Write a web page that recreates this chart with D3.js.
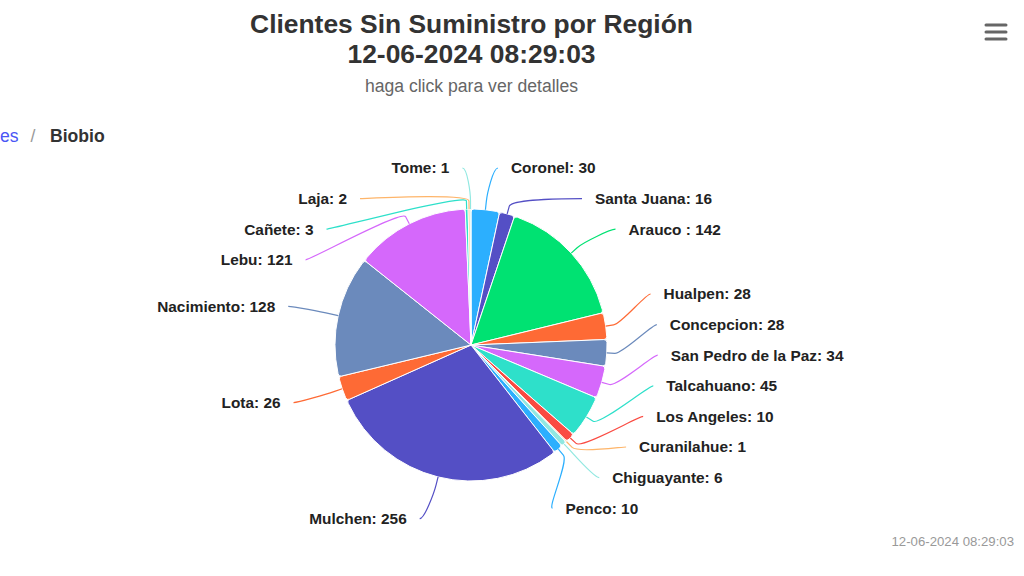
<!DOCTYPE html>
<html>
<head>
<meta charset="utf-8">
<script src="https://cdn.jsdelivr.net/npm/d3@7"></script>
<style>
  html, body { margin: 0; padding: 0; background: #fff; }
  svg { display: block; font-family: "Liberation Sans", Arial, Helvetica, sans-serif; }
</style>
</head>
<body>
<svg id="chart" width="1024" height="576"></svg>
<script>
const regiones = ["Coronel", "Santa Juana", "Arauco ", "Hualpen", "Concepcion", "San Pedro de la Paz",
  "Talcahuano", "Los Angeles", "Curanilahue", "Chiguayante", "Penco", "Mulchen", "Lota",
  "Nacimiento", "Lebu", "Cañete", "Laja", "Tome"]
const clientes = [30, 16, 142, 28, 28, 34, 45, 10, 1, 6, 10, 256, 26, 128, 121, 3, 2, 1]
const colores = ["#2caffe", "#544fc5", "#00e272", "#fe6a35", "#6b8abc", "#d568fb", "#2ee0ca", "#fa4b42",
  "#feb56a", "#91e8e1", "#2caffe", "#544fc5", "#fe6a35", "#6b8abc", "#d568fb", "#2ee0ca", "#feb56a", "#91e8e1"]

const titulo = "Clientes Sin Suministro por Región"
const fecha = "12-06-2024 08:29:03"
const subtitulo = "haga click para ver detalles"
// the first breadcrumb is only visible as its last letters at the left edge
const migas = ["es", "Biobio"]

const config = {
  cx: 471,
  cy: 345,
  radius: 136,
  labelDistance: 43,
  connectorPad: 8,
  textGap: 13,
  breakOffset: 8,
  slot: 30.6,
  labelTop: 168,
  labelBottom: 530
}

const svg = d3.select("#chart")

function drawHeader () {
  svg.append("text")
    .attr("x", 471.5).attr("y", 33)
    .attr("text-anchor", "middle")
    .style("font-size", "26.4px").style("font-weight", "bold").style("fill", "#333")
    .text(titulo)
  svg.append("text")
    .attr("x", 471.5).attr("y", 63)
    .attr("text-anchor", "middle")
    .style("font-size", "26.4px").style("font-weight", "bold").style("fill", "#333")
    .text(fecha)
  svg.append("text")
    .attr("x", 471.5).attr("y", 92)
    .attr("text-anchor", "middle")
    .style("font-size", "17.6px").style("fill", "#666")
    .text(subtitulo)

  const bc = svg.append("g").style("font-size", "17.6px")
  bc.append("text").attr("x", 0).attr("y", 142)
    .style("fill", "#4a56f5").text(migas[0])
  bc.append("text").attr("x", 33).attr("y", 142).attr("text-anchor", "middle")
    .style("fill", "#999").text("/")
  bc.append("text").attr("x", 50).attr("y", 142)
    .style("fill", "#333").style("font-weight", "bold").text(migas[1])

  // context menu
  const menu = svg.append("g").attr("stroke", "#666").attr("stroke-width", 3).attr("stroke-linecap", "round")
  ;[25, 32, 39].forEach(y => {
    menu.append("line").attr("x1", 986).attr("x2", 1006).attr("y1", y).attr("y2", y)
  })

  svg.append("text")
    .attr("x", 1014).attr("y", 546)
    .attr("text-anchor", "end")
    .style("font-size", "13.2px").style("fill", "#999")
    .text(fecha)
}

// group overlapping labels around the middle of their targets, keep inside bounds
function distribute (items, top, bottom) {
  let boxes = items.map(d => ({ items: [d], targets: [d.naturalY], pos: d.naturalY }))
  let merged = true
  while (merged) {
    merged = false
    for (let i = 1; i < boxes.length; i++) {
      const prev = boxes[i - 1]
      if (prev.pos + prev.items.length * config.slot > boxes[i].pos + 0.01) {
        const box = {
          items: prev.items.concat(boxes[i].items),
          targets: prev.targets.concat(boxes[i].targets)
        }
        box.pos = (d3.min(box.targets) + d3.max(box.targets)) / 2 - (box.items.length - 1) * config.slot / 2
        boxes.splice(i - 1, 2, box)
        merged = true
        break
      }
    }
    boxes.forEach(b => {
      const span = (b.items.length - 1) * config.slot
      b.pos = Math.max(top, Math.min(bottom - span, b.pos))
    })
  }
  boxes.forEach(b => b.items.forEach((d, k) => { d.y = b.pos + k * config.slot }))
}

function drawPie () {
  const data = regiones.map((name, i) => ({ name, value: clientes[i], color: colores[i] }))
  const arcs = d3.pie().sort(null).value(d => d.value)(data)
  const arc = d3.arc().innerRadius(0).outerRadius(config.radius).cornerRadius(3)
  const R = config.radius + config.labelDistance

  const g = svg.append("g").attr("transform", `translate(${config.cx},${config.cy})`)

  g.selectAll(".slice")
    .data(arcs)
    .enter()
    .append("path")
    .attr("class", "slice")
    .attr("d", arc)
    .style("fill", d => d.data.color)
    .style("stroke", "#fff")
    .style("stroke-width", 1)
    .style("stroke-linejoin", "round")

  const labels = arcs.map(a => {
    const mid = (a.startAngle + a.endAngle) / 2
    return {
      arc: a,
      mid,
      left: mid > Math.PI,
      naturalY: -R * Math.cos(mid)
    }
  })

  const top = config.labelTop - config.cy
  const bottom = config.labelBottom - config.cy
  distribute(labels.filter(d => !d.left).sort((a, b) => a.naturalY - b.naturalY), top, bottom)
  distribute(labels.filter(d => d.left).sort((a, b) => a.naturalY - b.naturalY), top, bottom)

  const getX = (y, left) => {
    const s = Math.max(-1, Math.min(1, y / R))
    return (left ? -1 : 1) * Math.cos(Math.asin(s)) * R
  }

  labels.forEach(d => {
    const atBound = Math.abs(d.y - top) < 2 || Math.abs(d.y - bottom) < 2
    const sign = d.left ? -1 : 1
    d.x = getX(atBound ? d.naturalY : d.y, d.left) + sign * config.connectorPad
    d.textX = d.x + sign * config.textGap
    d.touch = [config.radius * Math.sin(d.mid), -config.radius * Math.cos(d.mid)]
    const rb = config.radius + config.breakOffset
    d.brk = [rb * Math.sin(d.mid), -rb * Math.cos(d.mid)]
  })

  g.selectAll(".connector")
    .data(labels)
    .enter()
    .append("path")
    .attr("class", "connector")
    .attr("d", d => {
      const c1 = d.x + (d.left ? 5 : -5)
      const c2x = 2 * d.brk[0] - d.touch[0]
      const c2y = 2 * d.brk[1] - d.touch[1]
      return `M${d.x},${d.y}C${c1},${d.y} ${c2x},${c2y} ${d.brk[0]},${d.brk[1]}L${d.touch[0]},${d.touch[1]}`
    })
    .style("fill", "none")
    .style("stroke", d => d.arc.data.color)
    .style("stroke-width", 1.2)

  g.selectAll(".label")
    .data(labels)
    .enter()
    .append("text")
    .attr("class", "label")
    .attr("x", d => d.textX)
    .attr("y", d => d.y)
    .attr("dy", "0.35em")
    .attr("text-anchor", d => d.left ? "end" : "start")
    .style("font-size", "15.4px")
    .style("font-weight", "bold")
    .style("fill", "#222")
    .style("stroke", "#fff")
    .style("stroke-width", 2)
    .style("paint-order", "stroke")
    .style("stroke-linejoin", "round")
    .text(d => `${d.arc.data.name}: ${d.arc.data.value}`)
}

drawHeader()
drawPie()
</script>
</body>
</html>
